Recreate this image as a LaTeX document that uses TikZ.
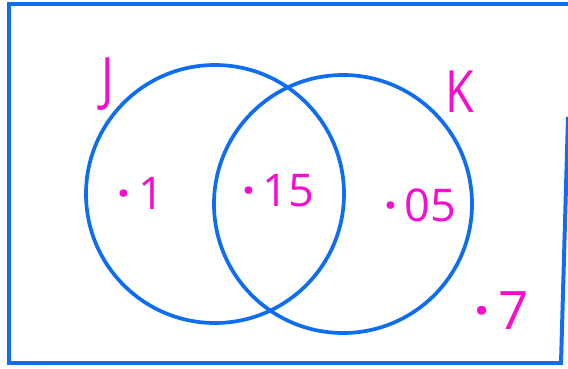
\documentclass[tikz,border=0pt]{standalone}
\usepackage{fontspec}
\setmainfont{Open Sans}
\usepackage{tikz}
\usepackage{xcolor}
\definecolor{VennBlue}{HTML}{0F6EF0}
\definecolor{InkPink}{HTML}{F50DD0}
\newcommand{\pdot}{{\bfseries·}\,}

\begin{document}
\begin{tikzpicture}[x=0.0265cm,y=-0.0265cm,
    frame/.style={draw=VennBlue,line width=3pt},
    ring/.style={draw=VennBlue,line width=2.8pt},
    ink/.style={text=InkPink,inner sep=0pt,font=\fontsize{34}{34}\selectfont},
    letter/.style={ink,font=\fontsize{44}{44}\selectfont,xscale=0.8}]
  \useasboundingbox (0,0) rectangle (568,368);
  % universe box and the two sets
  \draw[frame] (568,4) -- (9,4) -- (9,363) -- (561,363) -- (568,117);
  \draw[ring] (215,194) circle (129);
  \draw[ring] (343,204) circle (129);
  % labels and probabilities
  \node[letter] (setJ)  at (108,84)  {J};
  \node[letter] (setK)  at (460,92)  {K};
  \node[ink]    (onlyJ) at (141,193) {\pdot 1};
  \node[ink]    (both)  at (278,191) {\pdot 15};
  \node[ink]    (onlyK) at (420,205) {\pdot 05};
  \node[ink,font=\fontsize{40}{40}\selectfont] (none) at (502,311) {\pdot 7};
\end{tikzpicture}
\end{document}
